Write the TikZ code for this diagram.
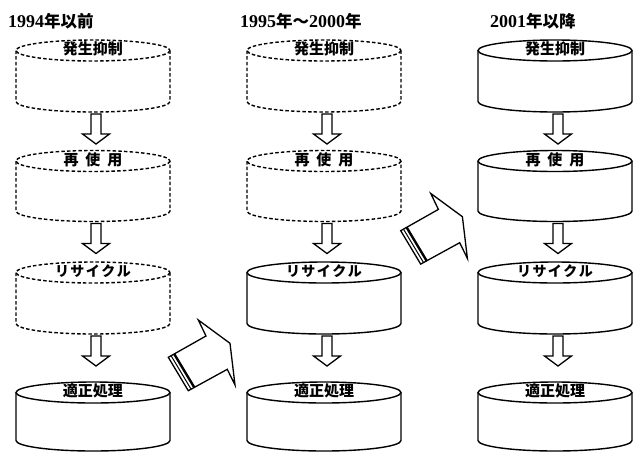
\documentclass[tikz,border=0pt]{standalone}
\usepackage{fontspec}
\setmainfont{Liberation Serif}
\newfontfamily\cjk{Noto Sans CJK JP}
\usetikzlibrary{calc}

\tikzset{
  solidline/.style={line width=1.4pt},
  dashline/.style={line width=1.4pt, dash pattern=on 3.5pt off 2.2pt},
  arr/.style={line width=1.3pt, line join=miter},
  lbl/.style={font=\cjk\bfseries\fontsize{15}{15}\selectfont, inner sep=0pt},
  ttl/.style={anchor=base west, inner sep=0pt, font=\bfseries\fontsize{18}{18}\selectfont},
}
\newcommand\ttlcjk[1]{{\cjk\bfseries\fontsize{16.5}{16.5}\selectfont #1}}
% name, cx, cy, h, style, label
\newcommand\mycyl[6]{%
  \draw[#5] (#2,#3) ellipse [x radius=77, y radius=10.5];
  \draw[#5] (#2-77,#3) -- (#2-77,#3+#4) arc[start angle=180, end angle=0, x radius=77, y radius=10.5] -- (#2+77,#3);
  \node[lbl] (#1) at (#2,#3-1.5) {#6};
  \coordinate (#1-s) at (#2+3,#3+#4+12.5);
  \coordinate (#1-t) at (#2+3,#3+#4+42.5);
}
\newcommand\darrow[2]{%
  \draw[arr] ($(#1)+(-5,0)$) -- ($(#2)+(-5,-10)$) -- ($(#2)+(-13.5,-10)$) -- (#2)
    -- ($(#2)+(13.5,-10)$) -- ($(#2)+(5,-10)$) -- ($(#1)+(5,0)$) -- cycle;
}
\newcommand\bigarrow[8]{%
  \coordinate (#1t1) at #2; \coordinate (#1n1) at #3; \coordinate (#1b1) at #4;
  \coordinate (#1p1) at #5; \coordinate (#1b2) at #6; \coordinate (#1n2) at #7;
  \coordinate (#1t2) at #8;
  \draw[arr, fill=white] (#1t1) -- (#1n1) -- (#1b1) -- (#1p1) -- (#1b2) -- (#1n2) -- (#1t2) -- cycle;
  \draw[line width=1pt] ($(#1t1)!3.2pt!(#1n1)$) -- ($(#1t2)!3.2pt!(#1n2)$);
  \draw[line width=2.4pt] ($(#1t1)!6.8pt!(#1n1)$) -- ($(#1t2)!6.8pt!(#1n2)$);
}
\newcommand\saisei{再\hspace{7pt}使\hspace{7pt}用}
\newcommand\recyc{{\fontsize{14}{14}\selectfont リ\kern1.5ptサ\kern1.5ptイ\kern1.5ptク\kern1.5ptル}}

\begin{document}
\begin{tikzpicture}[x=1pt, y=1pt, yscale=-1]
\useasboundingbox (0,0) rectangle (633,451);
\fill[white] (0,0) rectangle (633,451);

% titles
\node[ttl] (ta) at (8,27) {1994\ttlcjk{年以前}};
\node[ttl] (tb) at (240,27) {1995\ttlcjk{年～}2000\ttlcjk{年}};
\node[ttl] (tc) at (490,27) {2001\ttlcjk{年以降}};

% left column
\mycyl{a1}{93}{50.5}{51}{dashline}{発生抑制}
\mycyl{a2}{93}{161}{50}{dashline}{\saisei}
\mycyl{a3}{93}{272.5}{51}{dashline}{\recyc}
\mycyl{a4}{93}{392.5}{48}{solidline}{適正処理}
\darrow{a1-s}{a1-t}
\darrow{a2-s}{a2-t}
\darrow{a3-s}{a3-t}

% middle column
\mycyl{b1}{324}{50.5}{51}{dashline}{発生抑制}
\mycyl{b2}{324}{161}{50}{dashline}{\saisei}
\mycyl{b3}{324}{272.5}{51}{solidline}{\recyc}
\mycyl{b4}{324}{392.5}{48}{solidline}{適正処理}
\darrow{b1-s}{b1-t}
\darrow{b2-s}{b2-t}
\darrow{b3-s}{b3-t}

% right column
\mycyl{c1}{555}{50.5}{51}{solidline}{発生抑制}
\mycyl{c2}{555}{161}{50}{solidline}{\saisei}
\mycyl{c3}{555}{272.5}{51}{solidline}{\recyc}
\mycyl{c4}{555}{392.5}{48}{solidline}{適正処理}
\darrow{c1-s}{c1-t}
\darrow{c2-s}{c2-t}
\darrow{c3-s}{c3-t}

% big transition arrows
\bigarrow{A}{(168.3,357.3)}{(206,336)}{(198.3,320)}{(230,343.3)}{(235,385)}{(227.3,369.3)}{(188.3,390.7)}
\bigarrow{B}{(400.7,230.7)}{(438.4,209.4)}{(430.7,193.4)}{(462.4,216.7)}{(467.4,258.4)}{(459.7,242.7)}{(420.7,264.1)}
\end{tikzpicture}
\end{document}
